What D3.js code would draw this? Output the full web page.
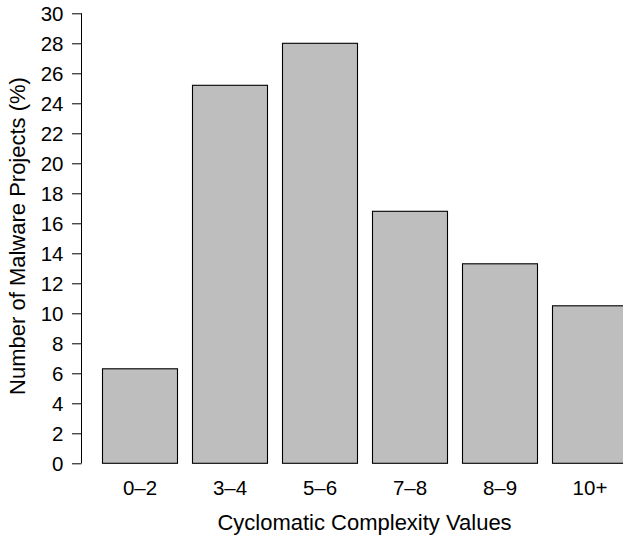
<!DOCTYPE html>
<html><head><meta charset="utf-8">
<script src="https://cdn.jsdelivr.net/npm/d3@7"></script>
<style>body{margin:0;background:#fff}svg{display:block}text{font-family:"Liberation Sans",Arial,Helvetica,sans-serif;fill:#000}</style>
</head><body><svg id="c" width="623" height="538"></svg>
<script>
const categories = ["0\u20132","3\u20134","5\u20136","7\u20138","8\u20139","10+"];
const values = [6.3, 25.2, 28.0, 16.8, 13.3, 10.5];
const yTicks = [0,2,4,6,8,10,12,14,16,18,20,22,24,26,28,30];
const xTitle = "Cyclomatic Complexity Values";
const yTitle = "Number of Malware Projects (%)";

const svg = d3.select("#c");
const y = d3.scaleLinear().domain([0,30]).range([463.3,13.3]);
const x = d3.scaleBand().domain(categories).range([94.5,634.5]).paddingInner(1/6).paddingOuter(1/12);

svg.append("g").selectAll("rect").data(values).join("rect")
  .attr("x",(d,i)=>Math.round(x(categories[i]))+0.5)
  .attr("y",d=>y(d))
  .attr("width",x.bandwidth())
  .attr("height",d=>y(0)-y(d))
  .attr("fill","#BEBEBE").attr("stroke","#000").attr("stroke-width",1.1);

const ya = d3.axisLeft(y).tickValues(yTicks).tickSize(9).tickPadding(8.5).tickFormat(d3.format("d"));
const g = svg.append("g").attr("transform","translate(81,0)").call(ya);
g.select(".domain").attr("d","M0.5,"+y(30)+"V"+y(0)).attr("stroke","#000");
g.selectAll(".tick line").attr("stroke","#000").attr("x1",0.5);
g.selectAll(".tick text").attr("font-size","20.5px").attr("font-family","Liberation Sans, Arial, sans-serif").attr("fill","#000").attr("dy","0.36em");

svg.append("g").selectAll("text").data(categories).join("text")
  .attr("x",d=>x(d)+x.bandwidth()/2+0.5).attr("y",494.5)
  .attr("text-anchor","middle").attr("font-size","20.5px").text(d=>d);

svg.append("text").attr("x",364.5).attr("y",530).attr("text-anchor","middle").attr("font-size","22px").text(xTitle);
svg.append("text").attr("transform","translate(25,236) rotate(-90)").attr("text-anchor","middle").attr("font-size","22px").text(yTitle);
</script></body></html>
